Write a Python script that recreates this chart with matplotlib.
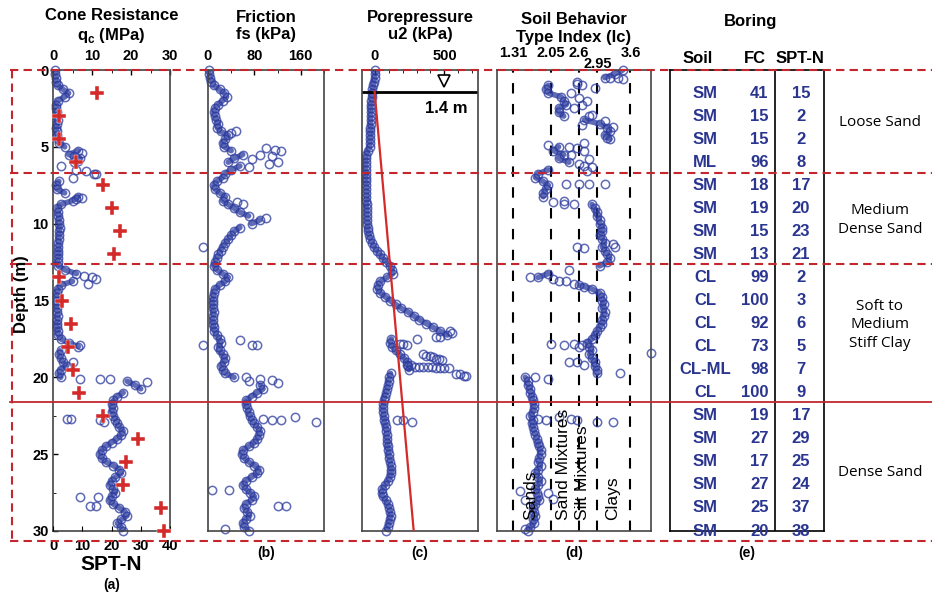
import numpy as np
import matplotlib
matplotlib.use('Agg')
import matplotlib.pyplot as plt
from matplotlib.lines import Line2D
from matplotlib.ticker import MultipleLocator
from matplotlib import transforms

plt.rcParams['font.family'] = ['Liberation Sans', 'DejaVu Sans']
plt.rcParams['mathtext.fontset'] = 'custom'
plt.rcParams['mathtext.rm'] = 'Liberation Sans:bold'
plt.rcParams['mathtext.bf'] = 'Liberation Sans:bold'

# CPT sounding, sampled every 0.25 m
depth = np.arange(121) * 0.25

qc = [0.5, 0.6, 0.7, 0.8, 1.2, 2.5, 4.0, 3.0, 1.2, 0.8, 0.8, 0.9, 1.0, 1.2, 1.0, 0.8,
      0.9, 1.0, 1.2, 1.5, 3.0, 6.5, 4.0, 7.0, 5.5, 2.0, 6.0, 10.5, 5.0, 1.5, 0.8, 1.0,
      3.0, 6.5, 5.0, 2.0, 1.0, 1.3, 1.4, 1.5, 1.6, 1.7, 1.6, 1.5, 1.5, 1.4, 1.4, 1.3,
      1.4, 1.3, 1.2, 1.3, 3.0, 6.0, 10.0, 5.0, 2.0, 1.2, 1.0, 1.0, 1.1, 1.0, 1.0, 1.1,
      1.2, 1.1, 1.0, 1.1, 1.2, 1.3, 2.0, 4.0, 6.5, 2.0, 1.5, 2.0, 2.5, 3.5, 2.0, 1.5,
      2.0, 19.0, 21.0, 22.5, 18.0, 16.5, 15.5, 15.0, 15.5, 15.0, 15.5, 16.0, 16.5, 17.0, 18.0, 17.5,
      16.5, 15.0, 13.5, 12.5, 12.0, 12.5, 13.5, 15.5, 17.0, 17.5, 16.0, 15.0, 14.5, 15.5, 16.0, 15.0,
      14.5, 15.5, 17.0, 18.5, 19.0, 17.5, 16.5, 17.5, 18.0]
qc_out_depth = [5.4, 5.6, 5.9, 6.6, 6.8, 8.3, 8.4, 13.4, 13.6, 13.9, 17.9, 19.0, 20.1, 20.1,
                20.1, 20.3, 22.7, 22.7, 22.8, 22.9, 27.8, 27.8, 28.4, 28.4]
qc_out_val = [7.5, 5.5, 6.5, 8.5, 11.0, 7.5, 6.0, 8.0, 11.0, 9.0, 7.0, 5.0, 7.0, 12.0,
              14.5, 24.0, 3.5, 4.5, 12.0, 13.0, 7.0, 11.5, 9.5, 11.0]

fs = [1, 2, 4, 6, 10, 20, 28, 32, 25, 18, 12, 10, 12, 14, 18, 16,
      22, 35, 30, 25, 28, 40, 60, 45, 35, 55, 40, 30, 25, 15, 10, 12,
      20, 30, 25, 35, 45, 55, 70, 90, 75, 55, 45, 40, 35, 30, 25, 22,
      18, 15, 12, 10, 15, 25, 35, 30, 20, 12, 10, 9, 8, 9, 8, 10,
      9, 8, 9, 10, 11, 15, 20, 22, 18, 20, 25, 30, 28, 22, 25, 30,
      45, 70, 90, 95, 85, 75, 65, 65, 68, 70, 72, 75, 80, 85, 90, 88,
      85, 80, 70, 60, 58, 62, 70, 80, 88, 85, 75, 65, 60, 65, 72, 80,
      75, 65, 62, 68, 72, 65, 60, 62, 70]
fs_out_depth = [4.0, 4.1, 5.1, 5.2, 5.3, 5.5, 5.6, 5.8, 6.0, 6.1, 6.3, 8.6, 8.7, 9.6, 11.5,
                17.6, 17.9, 17.9, 17.9, 20.0, 20.1, 20.2, 20.4, 22.6, 22.7, 22.8, 22.8, 22.9,
                27.3, 27.3, 28.4, 28.4, 29.9]
fs_out_val = [48, 40, 100, 115, 125, 90, 110, 75, 120, 105, 70, 50, 60, 100, -8,
              55, -8, 75, 85, 66, 90, 110, 120, 150, 95, 110, 125, 187,
              7, 37, 120, 135, 29]

u2 = [5, 3, 0, -5, -10, -15, -20, -22, -24, -25, -26, -27, -28, -28, -29, -30,
      -30, -31, -32, -33, -35, -50, -60, -62, -62, -63, -63, -62, -62, -61, -60, -60,
      -59, -58, -58, -57, -56, -55, -55, -54, -52, -50, -46, -40, -30, -18, -5, 15,
      40, 60, 85, 110, 125, 130, 90, 40, 25, 20, 40, 75, 110, 150, 190, 240, 280, 320,
      370, 420, 470, 520, 120, 110, 125, 150, 180, 210, 235, 240, 245, 115,
      105, 100, 95, 90, 80, 72, 65, 62, 60, 62, 65, 70, 75, 80, 85, 88,
      90, 92, 95, 98, 100, 105, 110, 115, 120, 118, 110, 95, 75, 55, 50, 60,
      80, 95, 105, 110, 115, 110, 100, 95, 85]
u2_out_depth = [17.0, 17.1, 17.4, 17.4, 17.5, 17.8, 17.8, 17.9, 18.5, 18.6, 18.6, 18.7, 18.8,
                18.8, 18.9, 19.2, 19.2, 19.3, 19.3, 19.3, 19.3, 19.3, 19.4, 19.4, 19.4, 19.4,
                19.8, 19.8, 19.9, 19.9, 22.8, 22.8, 22.9]
u2_out_val = [540, 555, 440, 470, 300, 180, 205, 230, 345, 370, 400, 420, 440,
              460, 485, 230, 260, 290, 320, 350, 380, 410, 440, 470, 500, 535,
              585, 610, 640, 655, 160, 200, 270]

ic = [3.45, 3.3, 3.1, 2.55, 2.0, 1.95, 2.0, 2.25, 2.3, 2.35, 2.2, 2.2, 2.3, 2.7, 3.0, 3.15,
      3.2, 3.1, 3.2, 2.7, 2.2, 2.1, 2.3, 2.2, 2.4, 2.7, 2.0, 1.8, 1.75, 1.9, 2.0, 1.95,
      1.9, 1.9, 2.3, 2.85, 2.9, 2.95, 2.95, 3.0, 3.0, 3.05, 3.05, 3.0, 3.05, 3.1, 3.05, 3.1,
      3.15, 3.2, 3.15, 3.0, 2.4, 2.0, 1.8, 2.2, 2.6, 2.85, 3.0, 3.05, 3.05, 3.08, 3.05, 3.1,
      3.08, 3.05, 3.05, 3.0, 2.95, 2.9, 2.85, 2.75, 2.8, 2.85, 2.8, 2.85, 2.9, 2.9, 2.95, 2.95,
      1.55, 1.6, 1.6, 1.65, 1.65, 1.68, 1.7, 1.72, 1.72, 1.7, 1.65, 1.7, 1.68, 1.7, 1.72, 1.75,
      1.78, 1.8, 1.82, 1.85, 1.85, 1.82, 1.8, 1.85, 1.8, 1.75, 1.8, 1.85, 1.8, 1.75, 1.78, 1.8,
      1.82, 1.75, 1.7, 1.72, 1.75, 1.7, 1.72, 1.65, 1.6]
ic_out_depth = [0.5, 0.5, 0.6, 0.9, 1.0, 1.2, 1.5, 1.8, 2.0, 2.3, 2.5, 2.9, 3.0, 3.3, 3.6,
                3.7, 4.4, 4.9, 5.0, 5.1, 5.3, 5.5, 5.8, 6.1, 6.3, 6.6, 7.4, 7.4, 7.4, 7.4,
                8.6, 8.7, 8.7, 11.5, 11.6, 11.5, 11.3, 13.5, 13.6, 13.7, 13.9, 14.1, 17.8,
                17.9, 17.8, 17.9, 18.4, 18.0, 19.0, 19.0, 19.2, 19.7, 20.0, 20.1, 22.7, 22.8,
                22.6, 22.7, 22.8, 22.9, 22.9, 27.4, 27.5, 27.9, 28.0, 29.9]
ic_out_val = [3.2, 3.35, 3.45, 2.55, 2.65, 2.9, 2.45, 2.6, 2.75, 2.65, 2.5, 2.85, 2.8, 3.1, 2.65,
              3.25, 3.15, 2.0, 2.4, 2.55, 2.7, 2.45, 2.8, 2.6, 2.85, 2.75, 2.35, 2.6, 2.8, 3.1,
              2.1, 2.3, 2.5, 2.55, 2.7, 3.3, 3.25, 1.65, 2.1, 2.35, 2.5, 2.7, 2.05,
              2.3, 2.5, 2.65, 4.0, 2.6, 2.4, 2.55, 2.7, 3.4, 1.75, 2.0, 1.8, 1.95,
              2.2, 2.45, 2.55, 2.95, 3.25, 1.45, 2.0, 2.1, 1.55, 1.55]

# hydrostatic line below water table
gwt = 1.4
hydro_z = [1.4, 30.0]
hydro_u = [0.0, 280.0]

ic_bounds = [1.31, 2.05, 2.6, 2.95, 3.6]
ic_zone_names = ['Sands', 'Sand Mixtures', 'Silt Mixtures', 'Clays']
ic_zone_x = [1.65, 2.3, 2.67, 3.25]

# boring log
spt_depth = [1.5 * (k + 1) for k in range(20)]
soil = ['SM', 'SM', 'SM', 'ML', 'SM', 'SM', 'SM', 'SM', 'CL', 'CL',
        'CL', 'CL', 'CL-ML', 'CL', 'SM', 'SM', 'SM', 'SM', 'SM', 'SM']
fc = [41, 15, 15, 96, 18, 19, 15, 13, 99, 100, 92, 73, 98, 100, 19, 27, 17, 27, 25, 20]
spt_n = [15, 2, 2, 8, 17, 20, 23, 21, 2, 3, 6, 5, 7, 9, 17, 29, 25, 24, 37, 38]

layer_names = ['Loose Sand', 'Medium\nDense Sand', 'Soft to\nMedium\nStiff Clay', 'Dense Sand']
layer_label_y = [123, 220, 325, 473]
dashed_bounds = [0.0, 6.7, 12.6, 30.65]
solid_bound = 21.6

W, H = 932, 595
blue = '#2b3a9e'
red = '#d42a2a'
dred = '#c4262e'

fig = plt.figure(figsize=(W / 100, H / 100), dpi=100)
fig.patch.set_facecolor('white')


def make_axes(x0, x1):
    ax = fig.add_axes([x0 / W, (H - 531) / H, (x1 - x0) / W, 461 / H])
    ax.set_ylim(30, 0)
    for s in ax.spines.values():
        s.set_color('#444444')
        s.set_linewidth(1.2)
    ax.tick_params(direction='in', labelsize=10.5, width=1.0)
    return ax


def dots(ax, x, y, jump=None):
    x = np.asarray(x, float)
    y = np.asarray(y, float)
    if jump is not None:
        # dense trace: join neighbours, but not across big jumps
        cut = np.where(np.abs(np.diff(x)) > jump)[0] + 1
        xs = np.insert(x, cut, np.nan)
        ys = np.insert(y, cut, np.nan)
        ax.plot(xs, ys, '-', color=blue, lw=4, alpha=0.75, solid_capstyle='round', zorder=2)
    ax.plot(x, y, 'o', mfc='none', mec=blue, ms=6, mew=1.1, alpha=0.75, clip_on=False, zorder=2)


def title(ax, txt, y=1.095):
    ax.text(0.5, y, txt, transform=ax.transAxes, ha='center', va='center',
            fontsize=12, fontweight='bold', linespacing=1.2)


def bold_ticks(ax):
    for lab in ax.get_xticklabels() + ax.get_yticklabels():
        lab.set_fontweight('bold')


# (a) cone resistance + SPT
axa = make_axes(53, 170)
dots(axa, qc, depth, jump=3.0)
dots(axa, qc_out_val, qc_out_depth)
axa.set_xlim(0, 30)

axs = axa.twiny()
axs.set_xlim(0, 40)
axs.xaxis.tick_bottom()
axs.xaxis.set_label_position('bottom')
axs.set_xticks([0, 10, 20, 30, 40])
axs.tick_params(axis='x', direction='in', labelsize=10.5, pad=6)
for s in axs.spines.values():
    s.set_visible(False)
bold_ticks(axs)
axs.plot(spt_n, spt_depth, 'P', color=red, ms=10, mec='white', mew=0.3, clip_on=False)
axs.set_xlabel('SPT-N', fontsize=15, fontweight='bold', labelpad=1)

# twiny moves the original ticks to the bottom, so put them back on top
axa.xaxis.tick_top()
axa.set_xticks([0, 10, 20, 30])
axa.xaxis.set_minor_locator(MultipleLocator(5))
axa.set_yticks(range(0, 31, 5))
axa.yaxis.set_minor_locator(MultipleLocator(2.5))
axa.tick_params(axis='x', which='both', direction='in', pad=5, top=True, bottom=False,
                labeltop=True, labelbottom=False, labelsize=10.5)
axa.tick_params(axis='y', which='both', direction='in', pad=3, labelsize=10.5)
bold_ticks(axa)
title(axa, 'Cone Resistance\nq$_{\\mathbf{c}}$ (MPa)')
axa.text(0.5, -0.117, '(a)', transform=axa.transAxes, ha='center', va='center',
         fontsize=10, fontweight='bold')

fig.text(22 / W, 1 - 294 / H, 'Depth (m)', rotation=90, ha='center', va='center',
         fontsize=12, fontweight='bold')

# (b) friction
axb = make_axes(208, 324)
dots(axb, fs, depth, jump=15)
dots(axb, fs_out_val, fs_out_depth)
axb.set_xlim(0, 200)
axb.xaxis.tick_top()
axb.set_xticks([0, 80, 160])
axb.xaxis.set_minor_locator(MultipleLocator(40))
axb.set_yticks([])
axb.tick_params(axis='x', which='both', direction='in', pad=5)
bold_ticks(axb)
title(axb, 'Friction\nfs (kPa)')

# (c) pore pressure
axc = make_axes(362, 478)
dots(axc, u2, depth, jump=60)
dots(axc, u2_out_val, u2_out_depth)
axc.plot(hydro_u, hydro_z, color=red, lw=1.6, zorder=3)
axc.axhline(gwt, color='black', lw=2)
axc.plot(500, 0.7, 'v', mfc='white', mec='black', ms=9, mew=1.2)
axc.text(510, 2.5, '1.4 m', ha='center', va='center', fontsize=12, fontweight='bold')
axc.set_xlim(-90, 740)
axc.xaxis.tick_top()
axc.set_xticks([0, 500])
axc.xaxis.set_minor_locator(MultipleLocator(100))
axc.set_yticks([])
axc.tick_params(axis='x', which='both', direction='in', pad=5)
bold_ticks(axc)
title(axc, 'Porepressure\nu2 (kPa)')

# (d) soil behaviour type index
axd = make_axes(497, 651)
for b in ic_bounds:
    axd.axvline(b, color='black', lw=1.5, ls=(0, (5, 5)), zorder=1)
dots(axd, ic, depth, jump=0.3)
dots(axd, ic_out_val, ic_out_depth)
for name, xz in zip(ic_zone_names, ic_zone_x):
    axd.text(xz, 29.3, name, rotation=90, ha='center', va='bottom', fontsize=12.5, zorder=4)
axd.set_xlim(1.0, 4.0)
axd.xaxis.tick_top()
axd.set_xticks([1.31, 2.05, 2.6, 3.6])
axd.set_xticklabels(['1.31', '2.05', '2.6', '3.6'])
axd.set_yticks([])
axd.tick_params(axis='x', length=0, pad=7)
bold_ticks(axd)
axd.text(2.97, 1.012, '2.95', transform=axd.get_xaxis_transform(), ha='center', va='center',
         fontsize=10.5, fontweight='bold')
title(axd, 'Soil Behavior\nType Index (Ic)', y=1.09)

# (e) boring log table
axe = make_axes(670, 824)
axe.set_xlim(0, 1)
axe.set_xticks([])
axe.set_yticks([])
for s in axe.spines.values():
    s.set_color('black')
axe.axvline(0.68, color='black', lw=1.2)
navy = '#2a3590'
for z, s_, f_, n_ in zip(spt_depth, soil, fc, spt_n):
    axe.text(0.227, z, s_, ha='center', va='center', color=navy, fontsize=12, fontweight='bold')
    axe.text(0.64, z, str(f_), ha='right', va='center', color=navy, fontsize=12, fontweight='bold')
    axe.text(0.85, z, str(n_), ha='center', va='center', color=navy, fontsize=12, fontweight='bold')
for txt, xf in [('Soil', 0.18), ('FC', 0.55), ('SPT-N', 0.845)]:
    axe.text(xf, 1.026, txt, transform=axe.transAxes, ha='center', va='center',
             fontsize=12, fontweight='bold')
axe.text(0.52, 1.106, 'Boring', transform=axe.transAxes, ha='center', va='center',
         fontsize=12, fontweight='bold')

for ax, lab in [(axb, '(b)'), (axc, '(c)'), (axd, '(d)'), (axe, '(e)')]:
    ax.text(0.5, -0.048, lab, transform=ax.transAxes, ha='center', va='center',
            fontsize=10, fontweight='bold')

# layer names on the right
for name, yp in zip(layer_names, layer_label_y):
    fig.text(880 / W, 1 - yp / H, name, ha='center', va='center', fontsize=11,
             family=['Open Sans', 'DejaVu Sans'], linespacing=1.3)

# layer boundaries across the whole figure
trans = transforms.blended_transform_factory(fig.transFigure, axa.transData)
for d in dashed_bounds:
    fig.add_artist(Line2D([10 / W, 1.0], [d, d], transform=trans, color=dred, lw=1.5,
                          ls=(0, (4, 2.5))))
fig.add_artist(Line2D([10 / W, 1.0], [solid_bound, solid_bound], transform=trans,
                      color=dred, lw=1.3))
fig.add_artist(Line2D([12 / W, 12 / W], [0, dashed_bounds[-1]], transform=trans, color=dred,
                      lw=1.5, ls=(0, (4, 2.5))))

fig.savefig('out.png', dpi=100, facecolor='white')
